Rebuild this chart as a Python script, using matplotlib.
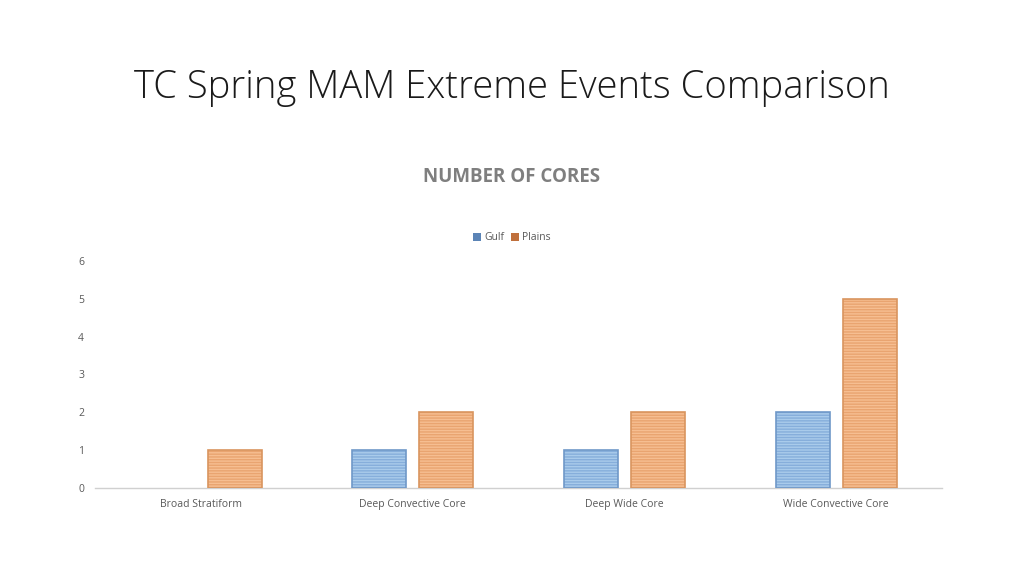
import matplotlib
matplotlib.use("Agg")
import matplotlib.pyplot as plt
import numpy as np
from matplotlib.patches import Patch

categories = ["Broad Stratiform", "Deep Convective Core", "Deep Wide Core", "Wide Convective Core"]
gulf = [0, 1, 1, 2]
plains = [1, 2, 2, 5]
series_names = ["Gulf", "Plains"]

plt.rcParams['font.family'] = ['Open Sans', 'DejaVu Sans']

fig = plt.figure(figsize=(10.24, 5.76), dpi=100)
ax = fig.add_axes([0.093, 0.153, 0.827, 0.394])

x = np.arange(len(categories))
w = 0.255
off = 0.158
styles = [
    (gulf, "#A9CBEB", "#86AEDB", "#6F98C8"),
    (plains, "#F6BE91", "#E9A470", "#D9955F"),
]
for i, (vals, face, stripe, edge) in enumerate(styles):
    pos = x + (-off if i == 0 else off)
    ax.bar(pos, vals, w, color=face, edgecolor=stripe, linewidth=0, hatch='------', zorder=2)
    lws = [1.2 if v > 0 else 0 for v in vals]
    ax.bar(pos, vals, w, fill=False, edgecolor=edge, linewidth=lws, zorder=3)

ax.set_xlim(-0.5, 3.5)
ax.set_ylim(0, 6)
ax.set_yticks(range(0, 7))
ax.set_xticks(x)
ax.set_xticklabels(categories)
ax.tick_params(axis='both', length=0, labelsize=7.5, labelcolor="#595959")
ax.tick_params(axis='x', pad=8)
ax.tick_params(axis='y', pad=8)
for s in ["top", "right", "left"]:
    ax.spines[s].set_visible(False)
ax.spines["bottom"].set_color("#D0D0D0")
ax.spines["bottom"].set_linewidth(1.0)

handles = [Patch(facecolor="#5B84B6", edgecolor="none"), Patch(facecolor="#C0703C", edgecolor="none")]
fig.legend(handles, series_names, loc="center", bbox_to_anchor=(0.5, 1 - 238/576), ncol=2,
           frameon=False, fontsize=7.5, handlelength=0.8, handleheight=0.8, handletextpad=0.3,
           columnspacing=0.6, labelcolor="#595959")

fig.text(0.5, 1 - 88/576, "TC Spring MAM Extreme Events Comparison", ha="center", va="center",
         fontsize=27.5, color="#1a1a1a", fontweight="light")
fig.text(0.5, 1 - 177/576, "NUMBER OF CORES", ha="center", va="center",
         fontsize=13.5, color="#7F7F7F", fontweight="bold")

fig.savefig("out.png", dpi=100)
